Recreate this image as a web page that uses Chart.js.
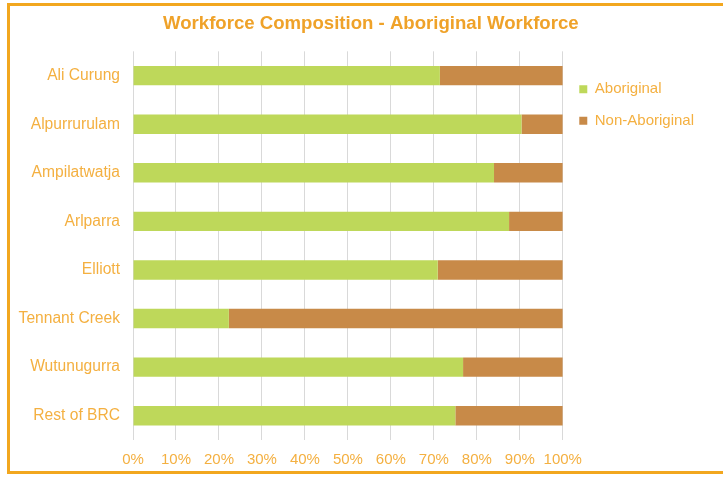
<!DOCTYPE html>
<html>
<head>
<meta charset="utf-8">
<script src="https://cdn.jsdelivr.net/npm/chart.js@4/dist/chart.umd.min.js"></script>
<style>
    html, body { margin: 0; padding: 0; background: #fff; overflow: hidden; }
    #wrap { position: relative; width: 723px; height: 477px; }
    #frame {
        position: absolute; left: 7px; top: 3px; width: 740px; height: 471px;
        box-sizing: border-box; border: 3px solid #F2A71F; pointer-events: none;
    }
</style>
</head>
<body>
<div id="wrap">
    <canvas id="chart" width="723" height="477"></canvas>
    <div id="frame"></div>
</div>
<script>
// values (percent of workforce)
const communities = ['Ali Curung', 'Alpurrurulam', 'Ampilatwatja', 'Arlparra', 'Elliott', 'Tennant Creek', 'Wutunugurra', 'Rest of BRC'];
const aboriginal = [71.4, 90.4, 84.0, 87.5, 70.9, 22.3, 76.8, 75.0];
const nonAboriginal = [28.6, 9.6, 16.0, 12.5, 29.1, 77.7, 23.2, 25.0];
const percentTicks = [0, 10, 20, 30, 40, 50, 60, 70, 80, 90, 100];

const textColor = '#F4B041';
const fontFamily = '"Liberation Sans", Arial, sans-serif';

new Chart(document.getElementById('chart'), {
    type: 'bar',
    data: {
        labels: communities,
        datasets: [{
            label: 'Aboriginal',
            data: aboriginal,
            backgroundColor: '#BED85A',
            barPercentage: 0.4,
            categoryPercentage: 1
        }, {
            label: 'Non-Aboriginal',
            data: nonAboriginal,
            backgroundColor: '#C88A48',
            barPercentage: 0.4,
            categoryPercentage: 1
        }]
    },
    options: {
        indexAxis: 'y',
        responsive: false,
        animation: false,
        layout: {
            padding: { left: 17, right: 19, top: 3, bottom: 8 }
        },
        plugins: {
            title: {
                display: true,
                // leading no-break spaces nudge the centred title right, as in the original
                text: '\u00a0\u00a0\u00a0\u00a0Workforce Composition - Aboriginal Workforce',
                color: '#EFA229',
                font: { family: fontFamily, size: 18.6, weight: 'bold' },
                padding: { top: 10, bottom: 16 }
            },
            legend: {
                position: 'right',
                align: 'start',
                fullSize: false,
                // empty title only used as a spacer above the items
                title: {
                    display: true,
                    text: '',
                    font: { size: 5, lineHeight: 1 },
                    padding: 4.5
                },
                labels: {
                    color: textColor,
                    font: { family: fontFamily, size: 15 },
                    boxWidth: 8,
                    boxHeight: 8,
                    padding: 16.5
                }
            },
            tooltip: { enabled: false }
        },
        scales: {
            x: {
                stacked: true,
                min: 0,
                max: 100,
                afterBuildTicks: (scale) => {
                    scale.ticks = percentTicks.map(v => ({ value: v }));
                },
                afterFit: (scale) => { scale.height = 29; },
                ticks: {
                    color: textColor,
                    font: { family: fontFamily, size: 15 },
                    padding: 11,
                    maxRotation: 0,
                    callback: (v) => v + '%'
                },
                grid: {
                    color: '#D9D9D9',
                    lineWidth: 1,
                    drawTicks: false
                },
                border: { display: false }
            },
            y: {
                stacked: true,
                afterFit: (scale) => { scale.width = 116; },
                ticks: {
                    color: textColor,
                    font: { family: fontFamily, size: 15.6 },
                    padding: 13
                },
                grid: { display: false, drawTicks: false },
                border: { display: false }
            }
        }
    }
});
</script>
</body>
</html>
